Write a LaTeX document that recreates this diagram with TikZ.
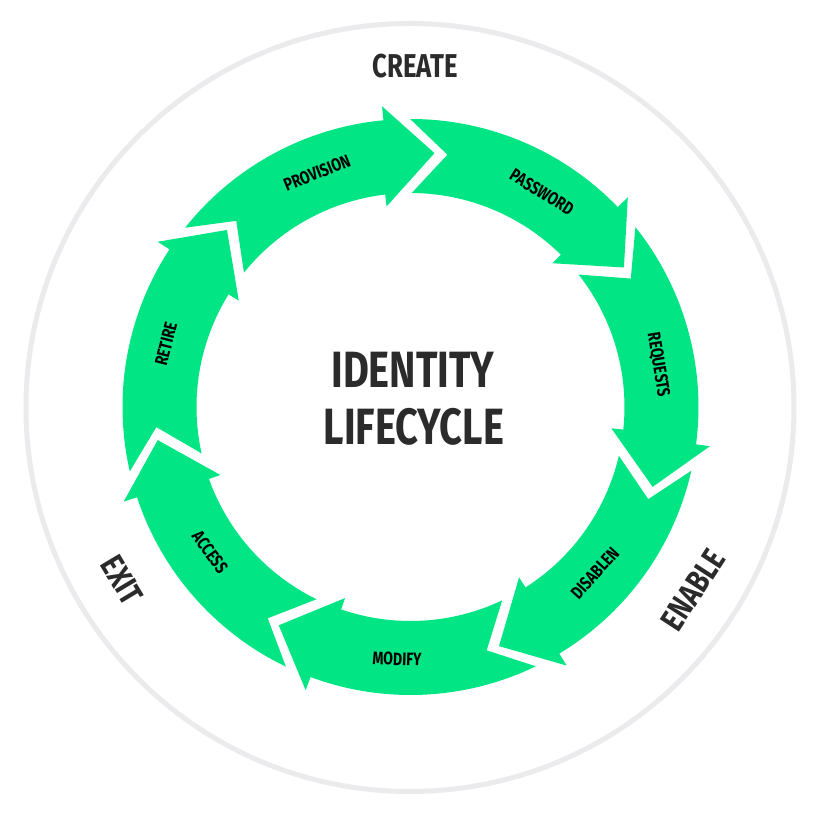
\documentclass[tikz,border=0pt]{standalone}
\usepackage{fontspec}
\setmainfont{Fira Sans}
\newfontfamily\condfont{Fira Sans}[FakeStretch=0.78]
\definecolor{ringgreen}{RGB}{2,229,132}
\definecolor{darktext}{RGB}{43,43,43}
\definecolor{circlegray}{RGB}{235,235,237}
\begin{document}
\begin{tikzpicture}[
  steplabel/.style={font=\condfont\bfseries\fontsize{18}{18}\selectfont, text=black, inner sep=0pt},
  phaselabel/.style={font=\condfont\bfseries\fontsize{33}{33}\selectfont, text=darktext, inner sep=0pt},
  titlelabel/.style={font=\condfont\bfseries\fontsize{51}{51}\selectfont, text=darktext, inner sep=0pt},
  arrowshape/.style={fill=ringgreen, draw=none}
]
\useasboundingbox (-410.5pt,-406pt) rectangle (412.5pt,407pt);
\fill[white] (-410.5pt,-406pt) rectangle (412.5pt,407pt);
\draw[circlegray, line width=5pt] (-0.5pt,-0.5pt) circle[radius=384pt];
\foreach \k in {0,...,6}{
  \pgfmathsetmacro\T{84.6-51.4286*\k}
  \fill[arrowshape] (\T+56.9:288pt) arc[start angle=\T+56.9, end angle=\T+10.8, radius=288pt]
    -- (\T+10.8:302pt) -- (\T:255pt) -- (\T+12.2:202pt) -- (\T+12.2:214pt)
    arc[start angle=\T+12.2, end angle=\T+56.5, radius=214pt]
    -- (\T+48.5:255pt) -- cycle;
}
% step labels
\node[steplabel, rotate=22] (provision) at (-93.5pt,234pt) {PROVISION};
\node[steplabel, rotate=-31.5] (password) at (131.5pt,215pt) {PASSWORD};
\node[steplabel, rotate=-80.6] (requests) at (247.5pt,42pt) {REQUESTS};
\node[steplabel, rotate=48] (disablen) at (184.5pt,-166pt) {DISABLEN};
\node[steplabel, rotate=-2] (modify) at (-13.5pt,-252pt) {MODIFY};
\node[steplabel, rotate=-54] (access) at (-200.5pt,-145pt) {ACCESS};
\node[steplabel, rotate=75.6] (retire) at (-244.5pt,63pt) {RETIRE};
% phase labels
\node[phaselabel] (create) at (5pt,340.5pt) {CREATE};
\node[phaselabel, rotate=57] (enable) at (282.5pt,-183pt) {ENABLE};
\node[phaselabel, rotate=-59] (exit) at (-288.5pt,-173pt) {EXIT};
% title
\node[titlelabel] (identity) at (2.5pt,37.5pt) {IDENTITY};
\node[titlelabel] (lifecycle) at (3.5pt,-19.5pt) {LIFECYCLE};
\end{tikzpicture}
\end{document}
